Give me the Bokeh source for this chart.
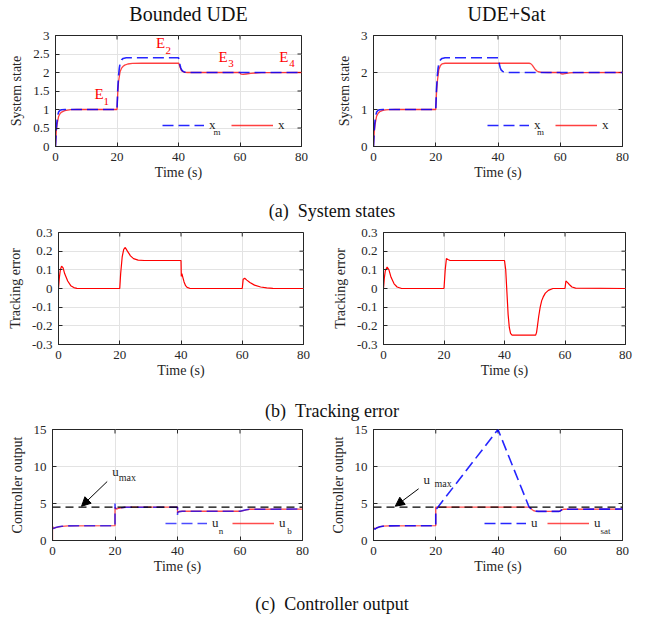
from bokeh.plotting import figure
from bokeh.models import (Range1d, FixedTicker, Legend, LegendItem, Label,
                          Arrow, NormalHead, Span, CustomJSTickFormatter)
from bokeh.layouts import column, row
from bokeh.embed import file_html
from bokeh.resources import INLINE

# ---------------- data ----------------
XTICKS = [0, 20, 40, 60, 80]
Y_STATE_L = [0, 0.5, 1, 1.5, 2, 2.5, 3]
Y_STATE_R = [0, 1, 2, 3]
Y_ERR = [-0.3, -0.2, -0.1, 0, 0.1, 0.2, 0.3]
Y_U = [0, 5, 10, 15]
U_MAX = 4.5

# reference model state x_m (same in both columns)
T_XM = [0, 0.25, 0.5, 0.75, 1.0, 1.5, 2.0, 3.0, 20.0, 20.25, 20.5, 20.75, 21.0, 21.5, 22.0, 23.0,
        40.0, 40.25, 40.5, 40.75, 41.0, 41.5, 42.0, 43.0, 80.0]
XM = [0, 0.45, 0.7, 0.85, 0.93, 0.98, 0.995, 1.0, 1.0, 1.55, 1.9, 2.12, 2.24, 2.34, 2.38, 2.4,
      2.4, 2.32, 2.2, 2.12, 2.07, 2.03, 2.01, 2.0, 2.0]

# system state x, Bounded UDE
T_XL = [0, 0.25, 0.5, 1.0, 1.5, 2.0, 3.0, 4.0, 5.0, 7.0,
        20.0, 20.25, 20.5, 21.0, 21.5, 22.0, 22.5, 23.5, 25.0, 28.0,
        40.0, 40.1, 40.5, 41.0, 41.5, 42.0, 43.0,
        60.0, 60.3, 61.0, 62.0, 63.5, 65.0, 67.0, 70.0, 80.0]
XL = [0, 0.4, 0.6, 0.81, 0.89, 0.93, 0.97, 0.985, 0.995, 1.0,
      1.0, 1.45, 1.75, 2.02, 2.12, 2.17, 2.2, 2.23, 2.245, 2.25,
      2.25, 2.25, 2.14, 2.05, 2.02, 2.005, 2.0,
      2.0, 1.955, 1.95, 1.96, 1.975, 1.987, 1.995, 1.999, 2.0]

# system state x, UDE+Sat
T_XR = [0, 0.25, 0.5, 1.0, 1.5, 2.0, 3.0, 4.0, 5.0, 7.0,
        20.0, 20.25, 20.5, 21.0, 21.5, 22.0, 23.0,
        50.0, 50.5, 51.0, 51.5, 52.0, 52.5, 53.0, 54.0, 56.0,
        60.0, 60.3, 61.0, 62.0, 63.0, 64.5, 80.0]
XR = [0, 0.4, 0.6, 0.82, 0.9, 0.94, 0.975, 0.99, 0.997, 1.0,
      1.0, 1.47, 1.75, 2.08, 2.19, 2.23, 2.25,
      2.25, 2.24, 2.2, 2.14, 2.08, 2.04, 2.02, 2.005, 2.0,
      2.0, 1.965, 1.96, 1.975, 1.99, 1.998, 2.0]

# tracking error, Bounded UDE
T_E1 = [0, 0.3, 0.6, 1.0, 1.5, 2.0, 3.0, 4.0, 5.0, 6.0, 7.0,
        20.0, 20.3, 20.8, 21.3, 21.8, 22.5, 23.5, 24.5, 26.0, 28.0,
        40.0, 40.1, 40.3, 40.6, 41.0, 41.5, 42.0, 43.0,
        60.0, 60.3, 60.8, 61.5, 62.5, 64.0, 66.0, 68.0, 70.0, 80.0]
E1 = [0, 0.06, 0.1, 0.12, 0.11, 0.08, 0.04, 0.015, 0.005, 0.001, 0,
      0, 0.08, 0.17, 0.21, 0.22, 0.2, 0.175, 0.16, 0.152, 0.15,
      0.15, 0.065, 0.08, 0.06, 0.035, 0.015, 0.006, 0,
      0, 0.05, 0.055, 0.045, 0.032, 0.018, 0.008, 0.003, 0.001, 0]

# tracking error, UDE+Sat
T_E2 = [0, 0.3, 0.6, 1.2, 1.8, 2.5, 3.5, 4.5, 6.0,
        20.0, 20.4, 20.8, 21.3, 22.0,
        40.0, 40.4, 40.8, 41.2, 41.6, 42.0, 42.5,
        50.3, 50.6, 50.9, 51.3, 51.8, 52.3, 52.8, 53.5, 54.5, 56.0,
        60.0, 60.3, 60.8, 61.5, 62.3, 63.5, 80.0]
E2 = [0, 0.06, 0.095, 0.115, 0.1, 0.06, 0.025, 0.008, 0,
      0, 0.1, 0.16, 0.155, 0.15,
      0.15, 0.1, -0.02, -0.14, -0.21, -0.24, -0.25,
      -0.25, -0.235, -0.2, -0.15, -0.1, -0.065, -0.045, -0.025, -0.01, 0,
      0, 0.04, 0.033, 0.02, 0.008, 0.002, 0]

# controller output, Bounded UDE
T_UN = [0, 0.4, 1.0, 2.0, 3.0, 5.0, 20.0, 20.0, 20.05, 20.5, 21.0, 22.0, 23.5,
        40.0, 40.0, 40.05, 40.5, 41.5, 60.0, 61.0, 62.0, 63.0, 80.0]
UN = [1.6, 1.65, 1.75, 1.85, 1.92, 1.98, 2.0, 5.0, 4.4, 4.25, 4.35, 4.42, 4.5,
      4.5, 3.45, 3.8, 3.9, 3.95, 3.95, 4.05, 4.15, 4.22, 4.25]
T_UB = [0, 0.0, 0.4, 1.0, 2.0, 3.0, 5.0, 20.0, 20.0, 20.5, 21.0, 22.0, 23.5,
        40.0, 40.0, 40.5, 41.5, 60.0, 61.0, 62.0, 63.0, 80.0]
UB = [0, 1.9, 1.65, 1.75, 1.85, 1.92, 1.98, 2.0, 4.5, 4.25, 4.35, 4.42, 4.5,
      4.5, 3.75, 3.9, 3.95, 3.95, 4.05, 4.15, 4.22, 4.25]

# controller output, UDE+Sat
T_U = [0, 0.5, 1.0, 2.0, 3.0, 5.0, 20.0, 20.0, 20.3, 40.0, 50.0, 50.5, 51.0, 51.5, 52.0, 53.0,
       59.5, 60.0, 60.5, 61.0, 80.0]
U = [1.6, 1.55, 1.7, 1.85, 1.93, 1.98, 2.0, 4.2, 4.3, 15.0, 4.5, 4.35, 4.15, 4.02, 3.97, 3.93,
     3.93, 4.0, 4.15, 4.22, 4.25]
T_US = [0, 0.5, 1.0, 2.0, 3.0, 5.0, 20.0, 20.0, 50.0, 50.5, 51.0, 51.5, 52.0, 53.0,
        59.5, 60.0, 60.5, 61.0, 80.0]
US = [1.75, 1.55, 1.7, 1.85, 1.93, 1.98, 2.0, 4.5, 4.5, 4.35, 4.15, 4.02, 3.97, 3.93,
      3.93, 4.0, 4.15, 4.22, 4.25]

# ---------------- styling ----------------
FONT = "Liberation Serif"
AXC = "#262626"
GRIDC = "#e3e3e3"
BLUE = "#0000ff"
RED = "#ff0000"
FULLW = 644


def fmt():
    return CustomJSTickFormatter(code="return String(tick);")


def panel(bl, fw, br, bt, fh, bb, yr, yticks, ylabel):
    p = figure(frame_width=fw, frame_height=fh, min_border_left=bl, min_border_right=br,
               min_border_top=bt, min_border_bottom=bb, x_range=Range1d(XTICKS[0], XTICKS[-1]),
               y_range=Range1d(*yr), output_backend="svg", toolbar_location=None, tools="")
    p.background_fill_color = "white"
    p.border_fill_color = "white"
    p.outline_line_color = AXC
    p.outline_line_width = 1
    p.xaxis.ticker = FixedTicker(ticks=XTICKS)
    p.yaxis.ticker = FixedTicker(ticks=yticks)
    p.xaxis.formatter = fmt()
    p.yaxis.formatter = fmt()
    p.xaxis.axis_label = "Time (s)"
    p.yaxis.axis_label = ylabel
    for ax in (p.xaxis[0], p.yaxis[0]):
        ax.major_tick_in = 4
        ax.major_tick_out = 0
        ax.minor_tick_line_color = None
        ax.axis_line_color = AXC
        ax.major_tick_line_color = AXC
        ax.major_label_text_font = FONT
        ax.major_label_text_font_size = "13px"
        ax.major_label_text_color = AXC
        ax.axis_label_text_font = FONT
        ax.axis_label_text_font_size = "14px"
        ax.axis_label_text_font_style = "normal"
        ax.axis_label_text_color = AXC
    p.xaxis[0].major_label_standoff = 6
    p.xaxis[0].axis_label_standoff = 1
    p.yaxis[0].major_label_standoff = 6
    p.yaxis[0].axis_label_standoff = 6
    p.xgrid[0].ticker = FixedTicker(ticks=XTICKS)
    p.ygrid[0].ticker = FixedTicker(ticks=yticks)
    p.xgrid[0].grid_line_color = GRIDC
    p.ygrid[0].grid_line_color = GRIDC
    # inward box ticks on the top and right edges (4 px long)
    dy = 4.0 * (yr[1] - yr[0]) / fh
    dx = 4.0 * (XTICKS[-1] - XTICKS[0]) / fw
    n = len(XTICKS)
    m = len(yticks)
    p.segment(x0=XTICKS, y0=[yr[1]] * n, x1=XTICKS, y1=[yr[1] - dy] * n,
              line_color=AXC, line_width=1)
    p.segment(x0=[XTICKS[-1]] * m, y0=yticks, x1=[XTICKS[-1] - dx] * m, y1=yticks,
              line_color=AXC, line_width=1)
    return p


def add_legend(p, r1, r2, lab1, lab2, x0, y0, lw):
    leg = Legend(items=[LegendItem(label=lab1, renderers=[r1]), LegendItem(label=lab2, renderers=[r2])],
                 location=(x0, y0), orientation="horizontal", glyph_width=42, glyph_height=14,
                 label_height=14, label_width=lw, label_standoff=5, spacing=6, padding=0, margin=0,
                 border_line_alpha=0, background_fill_alpha=0, label_text_font=FONT,
                 label_text_font_size="13px", label_text_color=AXC)
    p.add_layout(leg)


def sub(p, x, y, text, size="9px", color=AXC):
    p.add_layout(Label(x=x, y=y, text=text, text_font=FONT, text_font_size=size,
                       text_color=color, text_baseline="middle"))


def text_fig(h, items):
    f = figure(width=FULLW, height=h, min_border=0, x_range=Range1d(0, 1), y_range=Range1d(0, 1),
               output_backend="svg", toolbar_location=None, tools="",
               x_axis_location=None, y_axis_location=None)
    f.grid.visible = False
    f.outline_line_color = None
    f.background_fill_color = "white"
    f.border_fill_color = "white"
    for (x, y, t, size, base) in items:
        f.add_layout(Label(x=x, y=y, text=t, text_font=FONT, text_font_size=size,
                           text_color="#111111", text_align="center", text_baseline=base))
    return f


# ---------------- header ----------------
header = text_fig(26, [(188 / FULLW, 0.5, "Bounded UDE", "20px", "middle"),
                       (506 / FULLW, 0.5, "UDE+Sat", "20px", "middle")])

# ---------------- row 1: system states ----------------
p1 = panel(55, 246, 19, 9, 111, 49, (0, 3), Y_STATE_L, "System state")
r_x1 = p1.line(T_XL, XL, line_color=RED, line_width=1.3, line_alpha=0.75)
r_m1 = p1.line(T_XM, XM, line_color=BLUE, line_width=1.6, line_dash="11 5", line_alpha=0.85)
add_legend(p1, r_m1, r_x1, "x", "x", 107, 13, 16)
sub(p1, 51.4, 0.40, "m")
for (ex, ey, sx, sy, s) in [(12.7, 1.43, 15.6, 1.22, "1"), (32.7, 2.79, 35.8, 2.59, "2"),
                            (53.0, 2.41, 56.2, 2.25, "3"), (72.8, 2.41, 76.0, 2.25, "4")]:
    p1.add_layout(Label(x=ex, y=ey, text="E", text_font=FONT, text_font_size="15px",
                        text_color=RED, text_baseline="middle"))
    p1.add_layout(Label(x=sx, y=sy, text=s, text_font=FONT, text_font_size="11px",
                        text_color=RED, text_baseline="middle"))

p2 = panel(53, 249, 22, 9, 111, 49, (0, 3), Y_STATE_R, "System state")
r_x2 = p2.line(T_XR, XR, line_color=RED, line_width=1.3, line_alpha=0.75)
r_m2 = p2.line(T_XM, XM, line_color=BLUE, line_width=1.6, line_dash="11 5", line_alpha=0.85)
add_legend(p2, r_m2, r_x2, "x", "x", 114, 13, 15)
sub(p2, 52.5, 0.40, "m")

cap_a = text_fig(26, [(331.5 / FULLW, 0.423, "(a)\u2002System states", "18px", "middle")])

# ---------------- row 2: tracking error ----------------
p3 = panel(58, 245, 17, 11, 112, 51, (-0.3, 0.3), Y_ERR, "Tracking error")
p3.line(T_E1, E1, line_color=RED, line_width=1.2)
p4 = panel(63, 242, 19, 11, 112, 51, (-0.3, 0.3), Y_ERR, "Tracking error")
p4.line(T_E2, E2, line_color=RED, line_width=1.2)

cap_b = text_fig(26, [(331.5 / FULLW, 0.423, "(b)\u2002Tracking error", "18px", "middle")])

# ---------------- row 3: controller output ----------------
p5 = panel(52, 250, 18, 8, 111, 49, (0, 15), Y_U, "Controller output")
p5.add_layout(Span(location=U_MAX, dimension="width", line_color="black", line_width=1.2,
                   line_dash="8 5"))
r_ub = p5.line(T_UB, UB, line_color=RED, line_width=1.3, line_alpha=0.7)
r_un = p5.line(T_UN, UN, line_color=BLUE, line_width=1.6, line_dash="11 5", line_alpha=0.7)
add_legend(p5, r_un, r_ub, "u", "u", 113, 9, 14)
sub(p5, 53.2, 1.35, "n")
sub(p5, 75.1, 1.35, "b")
p5.add_layout(Label(x=19.1, y=9.37, text="u", text_font=FONT, text_font_size="13px",
                    text_color=AXC, text_baseline="middle"))
sub(p5, 21.2, 8.55, "max", "10px")
p5.add_layout(Arrow(x_start=17.5, y_start=7.97, x_end=9.3, y_end=4.63, line_color="black",
                    line_width=1, end=NormalHead(size=9, fill_color="black", line_color="black")))

p6 = panel(53, 249, 22, 8, 111, 49, (0, 15), Y_U, "Controller output")
p6.add_layout(Span(location=U_MAX, dimension="width", line_color="black", line_width=1.2,
                   line_dash="8 5"))
r_us = p6.line(T_US, US, line_color=RED, line_width=1.3, line_alpha=0.7)
r_u = p6.line(T_U, U, line_color=BLUE, line_width=1.6, line_dash="11 5", line_alpha=0.85)
add_legend(p6, r_u, r_us, "u", "u", 111, 9, 10)
sub(p6, 72.9, 1.26, "sat")
p6.add_layout(Label(x=16.1, y=8.3, text="u", text_font=FONT, text_font_size="13px",
                    text_color=AXC, text_baseline="middle"))
sub(p6, 19.6, 7.66, "max", "10px")
p6.add_layout(Arrow(x_start=14.5, y_start=6.99, x_end=7.0, y_end=4.63, line_color="black",
                    line_width=1, end=NormalHead(size=9, fill_color="black", line_color="black")))

cap_c = text_fig(27, [(331.5 / FULLW, 0.48, "(c)\u2002Controller output", "18px", "middle")])

layout = column(header, row(p1, p2), cap_a, row(p3, p4), cap_b, row(p5, p6), cap_c)

open("out.html", "w").write(file_html(layout, INLINE))
